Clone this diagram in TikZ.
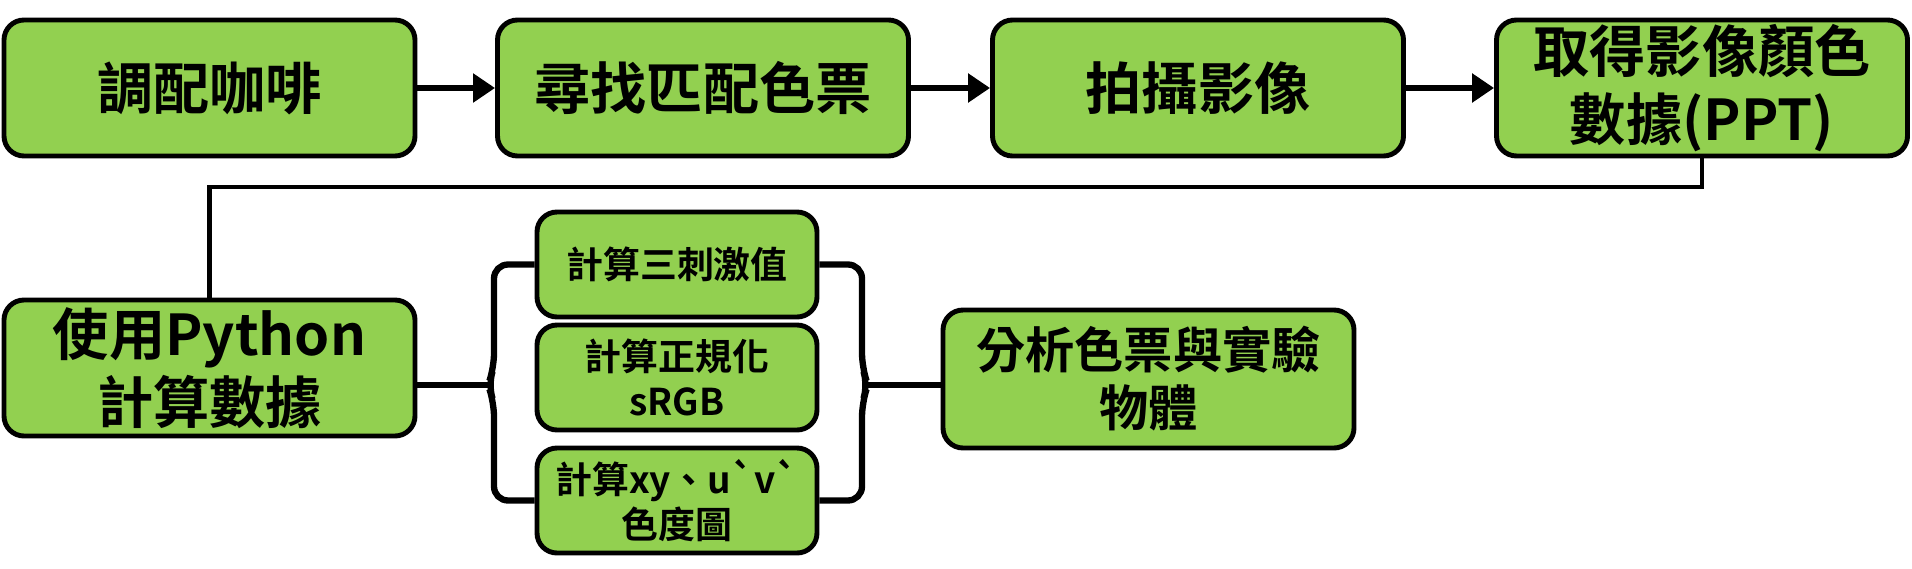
\documentclass[tikz,border=0pt]{standalone}
\usepackage{fontspec}
\setmainfont{Noto Sans CJK TC}[BoldFont={Noto Sans CJK TC Bold}, Ligatures=TeXOff]
\usetikzlibrary{positioning, arrows.meta}
\definecolor{boxgreen}{HTML}{92D050}

\begin{document}
\begin{tikzpicture}

\useasboundingbox (0,0) rectangle (19.12,-5.69);

\tikzstyle{gbox}=[draw=black, line width=1.4pt, fill=boxgreen, shape=rectangle,
rounded corners=0.2cm, align=center, inner sep=0pt];
\tikzstyle{bigbox}=[gbox, minimum width=4.11cm, minimum height=1.36cm,
font=\bfseries\fontsize{16}{19.5}\selectfont];
\tikzstyle{smallbox}=[gbox, minimum width=2.80cm, minimum height=1.05cm,
font=\bfseries\fontsize{10.5}{13}\selectfont];
\tikzstyle{link}=[line width=1.8pt];

\node[bigbox] (coffee) at (2.095,-0.88) {調配咖啡};
\node[bigbox] (chart) at (7.03,-0.88) {尋找匹配色票};
\node[bigbox] (photo) at (11.98,-0.88) {拍攝影像};
\node[bigbox] (ppt) at (17.02,-0.88) {取得影像顏色\\數據(PPT)};
\node[bigbox] (python) at (2.095,-3.68) {使用Python\\計算數據};

\node[smallbox] (xyz) at (6.77,-2.645) {計算三刺激值};
\node[smallbox] (srgb) at (6.77,-3.775) {計算正規化\\sRGB};
\node[smallbox] (uv) at (6.77,-5.005) {計算xy、u\symbol{96}v\symbol{96}\\色度圖};

\node[bigbox, minimum height=1.38cm, font=\bfseries\fontsize{14}{16.5}\selectfont]
  (analysis) at (11.485,-3.79) {分析色票與實驗\\物體};

\coordinate (turn) at (0,-1.87);
\coordinate (lbr) at (4.94,-3.85);
\coordinate (ltip) at (4.88,-3.85);
\coordinate (rbr) at (8.62,-3.85);
\coordinate (rtip) at (8.68,-3.85);

% lines
\draw [link, -{Triangle[length=0.22cm, width=0.28cm]}] (coffee) -- (chart);
\draw [link, -{Triangle[length=0.22cm, width=0.28cm]}] (chart) -- (photo);
\draw [link, -{Triangle[length=0.22cm, width=0.28cm]}] (photo) -- (ppt);
\draw [line width=1.3pt] (ppt.south) |- (python.north |- turn) -- (python.north);

% braces
\draw [link] (python.east |- ltip) -- (ltip);
\draw [link, rounded corners=4pt] (xyz.west) -| ([yshift=5pt]lbr) -- (ltip)
  -- ([yshift=-5pt]lbr) |- (uv.west);
\draw [link, rounded corners=4pt] (xyz.east) -| ([yshift=5pt]rbr) -- (rtip)
  -- ([yshift=-5pt]rbr) |- (uv.east);
\draw [link] (rtip) -- (rtip -| analysis.west);

\end{tikzpicture}
\end{document}
